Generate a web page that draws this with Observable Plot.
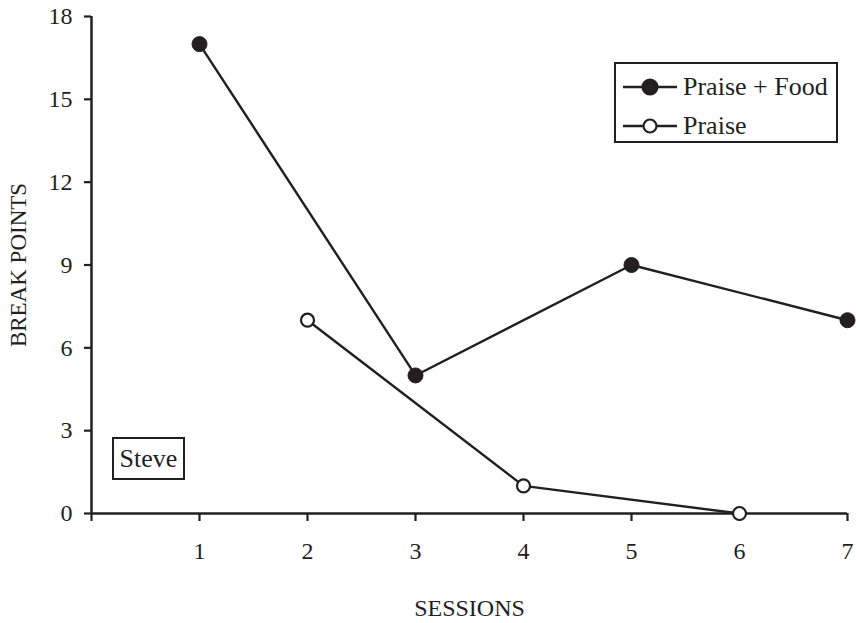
<!DOCTYPE html>
<html><head><meta charset="utf-8">
<script src="https://cdn.jsdelivr.net/npm/d3@7"></script>
<script src="https://cdn.jsdelivr.net/npm/@observablehq/plot@0.6"></script>
<style>
body{margin:0;background:#fff;}
#wrap{position:relative;width:856px;height:623px;font-family:"Liberation Serif","Times New Roman",Times,"DejaVu Serif",serif;color:#231f20;}
.box{position:absolute;border:2px solid #231f20;box-sizing:border-box;background:#fff;}
#legend{left:614px;top:62px;width:224px;height:81px;}
.item{position:absolute;left:7px;display:flex;align-items:center;font-size:26px;line-height:26px;white-space:nowrap;}
.item svg{margin-right:6px;}
#steve{left:112px;top:437px;width:73px;height:43px;font-size:26px;display:flex;align-items:center;justify-content:center;}
</style></head><body><div id="wrap"></div>
<script>
const praiseFoodSessions = [1, 3, 5, 7];
const praiseFoodValues = [17, 5, 9, 7];
const praiseSessions = [2, 4, 6];
const praiseValues = [7, 1, 0];
const xTicks = [0, 1, 2, 3, 4, 5, 6, 7];
const yTicks = [0, 3, 6, 9, 12, 15, 18];
const seriesNames = ["Praise + Food", "Praise"];
const subjectName = "Steve";
const xTitle = "SESSIONS";
const yTitle = "BREAK POINTS";

const ink = "#231f20";
const serif = '"Liberation Serif", "Times New Roman", Times, "DejaVu Serif", serif';
const pf = praiseFoodSessions.map((s, i) => ({session: s, value: praiseFoodValues[i]}));
const pr = praiseSessions.map((s, i) => ({session: s, value: praiseValues[i]}));

const chart = Plot.plot({
  width: 856, height: 623,
  marginLeft: 91, marginRight: 9, marginTop: 16, marginBottom: 110,
  x: {domain: [0, 7]},
  y: {domain: [0, 18]},
  style: {fontFamily: serif, fontSize: "24px", color: ink, background: "#fff", overflow: "visible"},
  marks: [
    Plot.ruleY([0], {stroke: ink, strokeWidth: 2.5}),
    Plot.ruleX([0], {stroke: ink, strokeWidth: 2.5}),
    Plot.axisX({ticks: xTicks, tickSize: 8, tickPadding: 20, tickFormat: d => d === 0 ? "" : String(d), label: null, stroke: ink, strokeWidth: 2.2, fontSize: 24, fontFamily: serif}),
    Plot.axisY({ticks: yTicks, tickSize: 7, tickPadding: 12, label: null, stroke: ink, strokeWidth: 2.2, fontSize: 24, fontFamily: serif}),
    Plot.line(pf, {x: "session", y: "value", stroke: ink, strokeWidth: 2.4}),
    Plot.line(pr, {x: "session", y: "value", stroke: ink, strokeWidth: 2.4}),
    Plot.dot(pf, {x: "session", y: "value", r: 7.5, fill: ink, stroke: ink, strokeWidth: 1}),
    Plot.dot(pr, {x: "session", y: "value", r: 6.5, fill: "white", stroke: ink, strokeWidth: 2.2}),
    Plot.text([yTitle], {frameAnchor: "left", dx: -73, rotate: -90, textAnchor: "middle", lineAnchor: "middle", fill: ink, fontSize: 23, fontFamily: serif}),
    Plot.text([xTitle], {frameAnchor: "bottom", dy: 95, textAnchor: "middle", lineAnchor: "middle", fill: ink, fontSize: 24, fontFamily: serif})
  ]
});

const wrap = document.getElementById("wrap");
wrap.appendChild(chart);

function symbol(filled) {
  return `<svg width="54" height="20" viewBox="0 0 54 20"><line x1="0" y1="10" x2="54" y2="10" stroke="${ink}" stroke-width="2.4"/><circle cx="27" cy="10" r="${filled ? 7.5 : 6.5}" fill="${filled ? ink : "#fff"}" stroke="${ink}" stroke-width="2.2"/></svg>`;
}
const legend = document.createElement("div");
legend.className = "box";
legend.id = "legend";
legend.innerHTML =
  `<div class="item" style="top:10px">${symbol(true)}<span>${seriesNames[0]}</span></div>` +
  `<div class="item" style="top:49px">${symbol(false)}<span>${seriesNames[1]}</span></div>`;
wrap.appendChild(legend);

const steve = document.createElement("div");
steve.className = "box";
steve.id = "steve";
steve.textContent = subjectName;
wrap.appendChild(steve);
</script>
</body></html>
